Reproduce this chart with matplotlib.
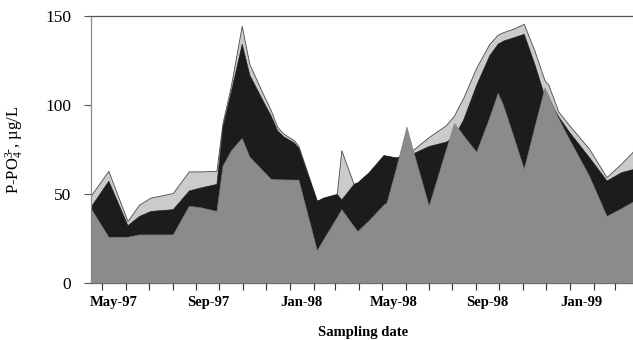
import matplotlib
matplotlib.use("Agg")
import matplotlib.pyplot as plt
import matplotlib.dates as mdates
import numpy as np

plt.rcParams["font.family"] = ["Liberation Serif", "DejaVu Serif"]
plt.rcParams["mathtext.fontset"] = "custom"
plt.rcParams["mathtext.rm"] = "Liberation Serif"
plt.rcParams["mathtext.it"] = "Liberation Serif:italic"

# Sampling dates and phosphate fractions (µg/L)
sample_dates = [
    "1997-04-16", "1997-05-09", "1997-06-03", "1997-06-18", "1997-07-03",
    "1997-08-01", "1997-08-22", "1997-09-07", "1997-09-27", "1997-10-05",
    "1997-10-16", "1997-10-30", "1997-11-09", "1997-11-27", "1997-12-07",
    "1997-12-15", "1997-12-23", "1998-01-06", "1998-01-12", "1998-02-05",
    "1998-02-14", "1998-03-03", "1998-03-09", "1998-03-25", "1998-03-30",
    "1998-04-14", "1998-05-03", "1998-05-07", "1998-05-19", "1998-06-02",
    "1998-06-11", "1998-07-01", "1998-07-23", "1998-08-03", "1998-08-10",
    "1998-08-15", "1998-09-01", "1998-09-18", "1998-09-29", "1998-10-06",
    "1998-10-19", "1998-11-02", "1998-11-16", "1998-11-29", "1998-12-04",
    "1998-12-17", "1998-12-31", "1999-01-26", "1999-02-18", "1999-03-09",
    "1999-03-26",
]
fraction_gray = [
    42, 26, 26, 27.3, 27.3, 27.3, 43.4, 42.5, 40.5, 66,
    74.6, 81.5, 71, 63, 58.5, 58.3, 58.2, 58.1, 58.1, 18.5,
    25, 37, 41.5, 32, 29.2, 35.4, 44, 45.3, 64.2, 87.9,
    73.7, 43.4, 74.6, 89.8, 86, 83, 73.7, 93, 106.8, 100,
    83, 64.2, 88, 109.7, 105.4, 92.6, 81, 60.4, 37.7, 42,
    46.2,
]
fraction_dark = [
    43, 57.5, 32.5, 37.7, 40.5, 41.5, 52, 53.8, 55.7, 88,
    108, 134.5, 117, 102, 94, 86, 82.5, 79, 76, 46.2,
    48, 50, 47, 55.7, 56.5, 62.3, 71.8, 71.5, 70.5, 72,
    73, 77, 79.4, 82, 88, 92, 111.5, 128, 134.5, 136.2,
    138, 140, 122.9, 105, 104, 93.6, 85, 70.8, 57.6, 62.3,
    64.2,
]
fraction_light = [
    49, 63, 34.8, 44, 48, 50.5, 62.7, 62.7, 63, 90,
    111, 144.5, 123, 106, 97, 88, 84, 80.3, 77, 46.2,
    48, 50, 74.6, 55.7, 56.5, 62.3, 71.8, 71.5, 70.5, 72.5,
    75, 82, 88.5, 94, 100, 104, 121, 134.3, 139.5, 140.9,
    142.8, 145.6, 130.5, 114, 111.5, 96.4, 88.8, 75.6, 59.5, 67,
    74.6,
]

x = np.array(sample_dates, dtype="datetime64[D]")

fig = plt.figure(figsize=(6.33, 3.40), dpi=100)
ax = fig.add_axes([0.1433, 0.1676, 0.8597, 0.7854])

edge = "#4a4a4a"
ax.fill_between(x, 0, fraction_light, facecolor="#cbcbcb", edgecolor=edge,
                linewidth=0.6, zorder=1)
ax.fill_between(x, 0, fraction_dark, facecolor="#1c1c1c", edgecolor="#1c1c1c",
                linewidth=0.4, zorder=2)
ax.fill_between(x, 0, fraction_gray, facecolor="#8b8b8b", edgecolor="#7a7a7a",
                linewidth=0.4, zorder=3)

ax.set_xlim(np.datetime64("1997-04-16"), np.datetime64("1999-03-27"))
ax.set_ylim(0, 150)

# Month boundaries as tick marks; labels centred on every fourth month
ax.xaxis.set_major_locator(mdates.MonthLocator())
ax.xaxis.set_major_formatter(plt.NullFormatter())
ax.xaxis.set_minor_locator(mdates.MonthLocator(bymonth=[1, 5, 9], bymonthday=16))
ax.xaxis.set_minor_formatter(mdates.DateFormatter("%b-%y"))
ax.tick_params(axis="x", which="major", direction="out", length=5,
               width=0.8, color="#333333")
ax.tick_params(axis="x", which="minor", length=0, pad=9.5,
               labelsize=10.5)
for lbl in ax.get_xticklabels(minor=True):
    lbl.set_fontweight("bold")

ax.set_yticks([0, 50, 100, 150])
ax.tick_params(axis="y", direction="out", length=5, width=0.8,
               color="#555555", labelsize=12.5, pad=9)

for side in ("left", "top", "bottom", "right"):
    ax.spines[side].set_linewidth(0.9)
ax.spines["left"].set_color("#8c8c8c")
ax.spines["top"].set_color("#555555")
ax.spines["bottom"].set_color("#333333")
ax.spines["right"].set_visible(False)

ax.set_xlabel("Sampling date", fontsize=10.5, fontweight="bold", labelpad=12)
ax.set_ylabel(r"P-PO$_4^{3\text{-}}$, µg/L", fontsize=12, labelpad=14)

fig.savefig("out.png", dpi=100)
